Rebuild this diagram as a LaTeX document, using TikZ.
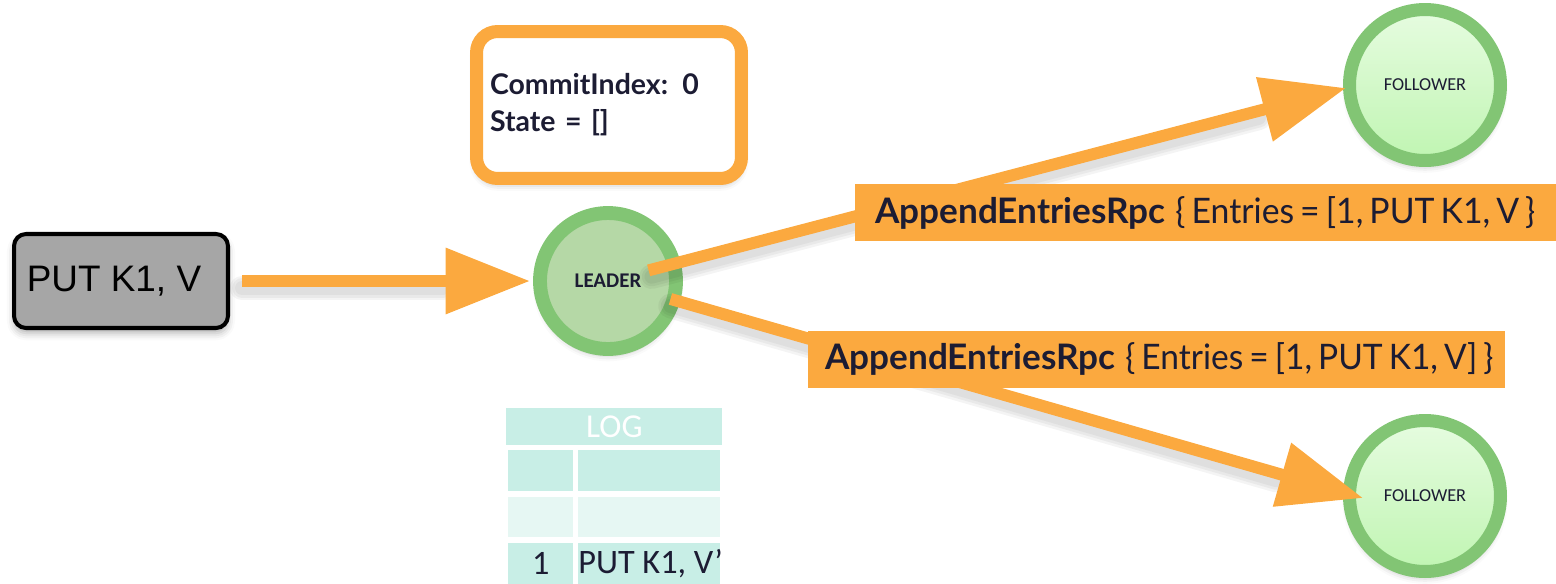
\documentclass[tikz,border=0pt]{standalone}
\usepackage{fontspec}
\setmainfont{Lato}[WordSpace=0.7]
\newfontfamily\arialfont{Liberation Sans}
\newfontfamily\calfont{Carlito}
\usetikzlibrary{arrows.meta,shadows.blur,calc}

\definecolor{orng}{HTML}{FBA93F}
\definecolor{ringgreen}{HTML}{82C574}
\definecolor{leaderfill}{HTML}{B5D8A6}
\definecolor{folltop}{HTML}{E6FCE0}
\definecolor{follbot}{HTML}{C0F5B2}
\definecolor{navy}{HTML}{1C1C33}
\definecolor{logdark}{HTML}{C8EEE6}
\definecolor{loglight}{HTML}{E6F7F3}
\definecolor{cmdgray}{HTML}{A6A6A6}

% one message label: bold call name, then its payload squeezed to a given width
\newcommand{\rpctext}[3]{\makebox[#1][l]{\textbf{AppendEntriesRpc}\hspace{0.2cm}\resizebox{#2}{\height}{#3}}}

\tikzset{
  softshadow/.style={blur shadow={shadow xshift=0pt, shadow yshift=-3pt,
      shadow blur radius=4pt, shadow opacity=30}},
  cmdbox/.style={draw=black, line width=2.3pt, fill=cmdgray, rounded corners=0.24cm,
      minimum width=4.28cm, minimum height=1.88cm, inner sep=0pt, softshadow},
  cmdtext/.style={inner sep=0pt, font=\arialfont\fontsize{21}{25}\selectfont},
  statebox/.style={draw=orng, line width=7.4pt, fill=white, rounded corners=0.42cm,
      minimum height=2.94cm, text width=4.76cm, inner xsep=0.27cm, align=left,
      softshadow, text=navy, font=\bfseries\fontsize{16.2}{21}\selectfont},
  leadernode/.style={circle, draw=ringgreen, line width=7.9pt, fill=leaderfill,
      minimum size=2.72cm, inner sep=0pt, softshadow, text=navy,
      font=\calfont\bfseries\fontsize{11.9}{14}\selectfont},
  follnode/.style={circle, draw=ringgreen, line width=7.4pt, top color=folltop,
      bottom color=follbot, minimum size=3.02cm, inner sep=0pt, softshadow, text=navy,
      font=\calfont\fontsize{10.4}{12}\selectfont},
  arrowline/.style={draw=orng, line width=6.8pt,
      -{Triangle[length=48pt,width=36pt]}},
  shadowline/.style={draw=black, line width=#1, opacity=0.045, line cap=round},
  rpclabel/.style={fill=orng, anchor=west, minimum height=1.14cm, inner ysep=0pt,
      text=navy, font=\fontsize{20}{24}\selectfont},
  logcell/.style={anchor=north west, inner sep=0pt, minimum height=0.82cm},
  logtext/.style={text=navy, font=\calfont\fontsize{19.5}{23}\selectfont, inner sep=0pt}
}

\begin{document}
\begin{tikzpicture}[x=0.02cm, y=-0.02cm]
\useasboundingbox (0,0) rectangle (1556,583);

% client command
\node[cmdbox] (put) at (121,281) {};
\node[cmdtext] (puttext) at (114,281) {PUT K1, V};

% leader state
\node[statebox] (state) at (609,105) {CommitIndex: 0\\State = []};

% cluster members
\node[leadernode] (leader) at (608,281) {LEADER};
\node[follnode] (f1) at (1425,85) {FOLLOWER};
\node[follnode] (f2) at (1425,496) {FOLLOWER};

% log of the leader
\node[logcell, fill=logdark, minimum width=4.32cm, minimum height=0.74cm,
      text=white, font=\calfont\fontsize{19}{22}\selectfont] (loghead) at (506,408) {LOG};
\node[logcell, fill=logdark, minimum width=1.3cm] (r1a) at (508,450) {};
\node[logcell, fill=logdark, minimum width=2.84cm] (r1b) at (578,450) {};
\node[logcell, fill=loglight, minimum width=1.3cm, minimum height=0.8cm] (r2a) at (508,497) {};
\node[logcell, fill=loglight, minimum width=2.84cm, minimum height=0.8cm] (r2b) at (578,497) {};
\node[logcell, fill=logdark, minimum width=1.3cm, minimum height=0.86cm] (r3a) at (508,543) {};
\node[logcell, fill=logdark, minimum width=2.84cm, minimum height=0.86cm] (r3b) at (578,543) {};
\node[logtext] (idx) at ($(r3a.center)+(0,-1)$) {1};
\node[logtext, anchor=west] (cmd) at ($(r3b.west)+(0,-1)$) {PUT K1, V’};

% soft shadows under the messages
\foreach \w in {14pt,11pt,8pt} {
  \draw[shadowline=\w, shorten <=0.24cm, shorten >=1.8cm]
    ([yshift=-4pt]put.east) -- ([yshift=-4pt]leader.west);
  \draw[shadowline=\w, shorten <=0.9cm, shorten >=1.8cm]
    ([yshift=-4pt]leader.center) -- ([shift={(3,3)},yshift=-4pt]f1.west);
  \draw[shadowline=\w, shorten <=1.3cm, shorten >=1.8cm]
    ([yshift=-4pt]leader.center) -- ([shift={(20,2)},yshift=-4pt]f2.west);
}

% messages
\draw[arrowline, shorten <=0.24cm, shorten >=0.06cm] (put.east) -- (leader.west);
\draw[arrowline, shorten <=0.84cm] (leader.center) -- ([shift={(3,3)}]f1.west);
\draw[arrowline, shorten <=1.3cm] (leader.center) -- ([shift={(20,2)}]f2.west);

% message labels
\node[rpclabel, inner xsep=0.4cm] (rpc1) at (855,212.5)
  {\rpctext{14.2cm}{7.2cm}{\{ Entries = [1, PUT K1, V \}}};
\node[rpclabel, inner xsep=0.34cm] (rpc2) at (808,359)
  {\rpctext{13.26cm}{7.36cm}{\{ Entries = [1, PUT K1, V] \}}};
\end{tikzpicture}
\end{document}
